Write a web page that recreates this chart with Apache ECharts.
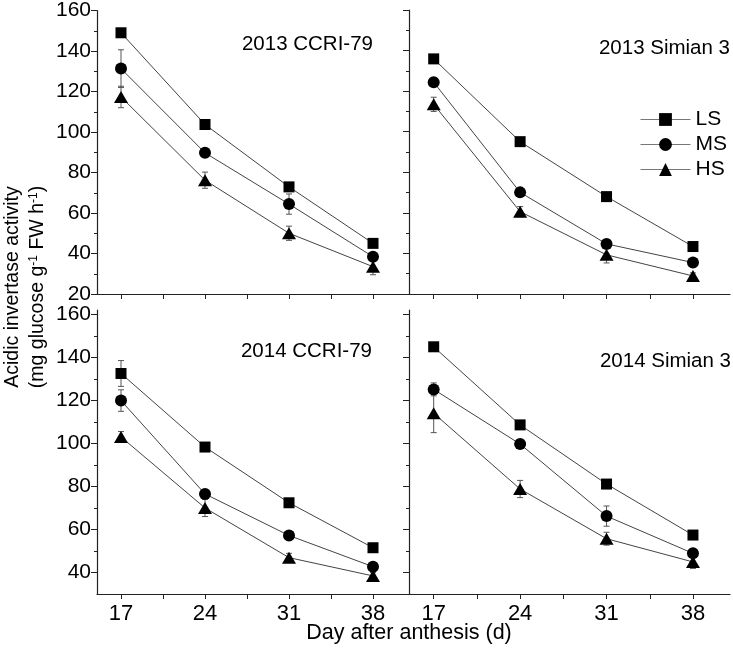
<!DOCTYPE html>
<html>
<head>
<meta charset="utf-8">
<script src="https://cdn.jsdelivr.net/npm/echarts@6/dist/echarts.min.js"></script>
<style>html,body{margin:0;padding:0;background:#fff}#c{width:733px;height:651px}</style>
</head>
<body>
<div id="c"></div>
<script>
// ---- data ----
const days = [17, 24, 31, 38];
const seriesNames = ['LS', 'MS', 'HS'];
const panelTitles = ['2013 CCRI-79', '2013 Simian 3', '2014 CCRI-79', '2014 Simian 3'];
const xTickValues = [17, 20.5, 24, 27.5, 31, 34.5, 38];
const xLabelValues = [17, 24, 31, 38];
const yTopLabels = [20, 40, 60, 80, 100, 120, 140, 160];
const yTopMinor = [30, 50, 70, 90, 110, 130, 150];
const yBotLabels = [40, 60, 80, 100, 120, 140, 160];
const yBotMinor = [50, 70, 90, 110, 130, 150];

// 2013 CCRI-79
const p1LS = [149, 103.7, 72.9, 45];
const p1MS = [131.3, 89.7, 64.4, 38.4];
const p1HS = [117.3, 76.2, 50, 33.5];
const p1LSerr = [1, 1, 1, 1];
const p1MSerr = [9.3, 1.5, 5, 1.5];
const p1HSerr = [5.3, 4, 3.5, 4];
// 2013 Simian 3
const p2LS = [135.9, 95.1, 68, 43.4];
const p2MS = [124.4, 70.1, 44.7, 35.5];
const p2HS = [113.5, 60.6, 39.3, 28.9];
const p2LSerr = [1, 1, 1, 1];
const p2MSerr = [1, 1, 1, 1];
const p2HSerr = [3.5, 2.5, 4, 1.5];
// 2014 CCRI-79
const p3LS = [132.5, 98.3, 72.4, 51.5];
const p3MS = [119.9, 76.5, 57.2, 42.7];
const p3HS = [103, 70, 46.9, 38.4];
const p3LSerr = [6, 1, 1, 1];
const p3MSerr = [5, 1, 1, 1];
const p3HSerr = [2.5, 4, 2, 1.5];
// 2014 Simian 3
const p4LS = [144.9, 108.6, 81.1, 57.4];
const p4MS = [125.1, 99.7, 66.2, 48.9];
const p4HS = [114, 78.8, 55.7, 44.9];
const p4LSerr = [1, 1, 1, 1];
const p4MSerr = [3, 1, 4.7, 1];
const p4HSerr = [9, 4, 3, 3];

const panels = [
  { vals: [p1LS, p1MS, p1HS], errs: [p1LSerr, p1MSerr, p1HSerr] },
  { vals: [p2LS, p2MS, p2HS], errs: [p2LSerr, p2MSerr, p2HSerr] },
  { vals: [p3LS, p3MS, p3HS], errs: [p3LSerr, p3MSerr, p3HSerr] },
  { vals: [p4LS, p4MS, p4HS], errs: [p4LSerr, p4MSerr, p4HSerr] }
];

// ---- styles ----
const FONT = 'Liberation Sans, Arial, sans-serif';
const AXC = '#222';
const symbols = ['rect', 'circle', 'triangle'];
const symbolSizes = [11, 12, [14, 12]];

const grids = [
  { left: 97, top: 10, width: 312, height: 284 },
  { left: 409, top: 10, width: 321, height: 284 },
  { left: 97, top: 310, width: 312, height: 284 },
  { left: 409, top: 310, width: 321, height: 284 }
];

const xAxes = grids.map((g, i) => ({
  type: 'value', gridIndex: i, min: 15, max: 41,
  axisLine: { show: true, onZero: false, lineStyle: { color: AXC, width: 1.2 } },
  axisTick: { show: true, inside: false, length: 5, customValues: xTickValues, lineStyle: { color: AXC, width: 1 } },
  axisLabel: { show: i >= 2, customValues: xLabelValues, margin: 9, fontSize: 22, color: '#000', fontFamily: FONT },
  splitLine: { show: false }
}));

const yAxes = [];
grids.forEach((g, i) => {
  const top = i < 2;
  const min = top ? 20 : 30;
  const max = top ? 160 : 162;
  yAxes.push({
    type: 'value', gridIndex: i, min: min, max: max, position: 'left',
    axisLine: { show: true, onZero: false, lineStyle: { color: AXC, width: 1.2 } },
    axisTick: { show: true, inside: false, length: 6, customValues: top ? yTopLabels : yBotLabels, lineStyle: { color: AXC } },
    axisLabel: { show: i % 2 === 0, customValues: top ? yTopLabels : yBotLabels, margin: 6, fontSize: 21, color: '#000', fontFamily: FONT },
    splitLine: { show: false }
  });
  yAxes.push({
    type: 'value', gridIndex: i, min: min, max: max, position: 'left', offset: 0,
    axisLine: { show: false, onZero: false },
    axisTick: { show: true, inside: false, length: 3, customValues: top ? yTopMinor : yBotMinor, lineStyle: { color: AXC } },
    axisLabel: { show: false },
    splitLine: { show: false }
  });
});

const series = [];
panels.forEach((p, pi) => {
  // error bars
  const errData = [];
  p.vals.forEach((arr, si) => {
    arr.forEach((v, k) => {
      errData.push([days[k], v - p.errs[si][k], v + p.errs[si][k]]);
    });
  });
  series.push({
    type: 'custom', xAxisIndex: pi, yAxisIndex: pi * 2, z: 1, silent: true,
    encode: { x: 0, y: [1, 2] },
    data: errData,
    renderItem: function (params, api) {
      const x = api.value(0);
      const a = api.coord([x, api.value(1)]);
      const b = api.coord([x, api.value(2)]);
      const w = 3;
      const st = { stroke: '#555', lineWidth: 1 };
      return {
        type: 'group',
        children: [
          { type: 'line', shape: { x1: a[0], y1: a[1], x2: b[0], y2: b[1] }, style: st },
          { type: 'line', shape: { x1: a[0] - w, y1: a[1], x2: a[0] + w, y2: a[1] }, style: st },
          { type: 'line', shape: { x1: b[0] - w, y1: b[1], x2: b[0] + w, y2: b[1] }, style: st }
        ]
      };
    }
  });
  p.vals.forEach((arr, si) => {
    series.push({
      type: 'line', name: seriesNames[si], xAxisIndex: pi, yAxisIndex: pi * 2, z: 3,
      data: arr.map((v, k) => [days[k], v]),
      symbol: symbols[si], symbolSize: symbolSizes[si], showAllSymbol: true,
      itemStyle: { color: '#000' },
      lineStyle: { color: '#444', width: 1 },
      emphasis: { disabled: true },
      animation: false
    });
  });
});

const titlePos = [
  { x: 373, y: 44 },
  { x: 730, y: 48 },
  { x: 372, y: 351 },
  { x: 731, y: 361 }
];

const graphics = panelTitles.map((t, i) => ({
  type: 'text', x: titlePos[i].x, y: titlePos[i].y,
  style: { text: t, font: '20.5px ' + FONT, fill: '#000', textAlign: 'right', textVerticalAlign: 'middle' }
}));
graphics.push({
  type: 'text', x: 409, y: 633,
  style: { text: 'Day after anthesis (d)', font: '21.5px ' + FONT, fill: '#000', textAlign: 'center', textVerticalAlign: 'middle' }
});
graphics.push({
  type: 'text', x: 13, y: 287, rotation: Math.PI / 2,
  style: { text: 'Acidic invertase activity', font: '19.5px ' + FONT, fill: '#000', textAlign: 'center', textVerticalAlign: 'middle' }
});
graphics.push({
  type: 'text', x: 38, y: 287, rotation: Math.PI / 2,
  style: {
    text: '(mg glucose g{s|-1} FW h{s|-1})',
    font: '19.5px ' + FONT, fill: '#000', textAlign: 'center', textVerticalAlign: 'middle',
    rich: { s: { fontSize: 12, fontFamily: FONT, verticalAlign: 'top', fill: '#000' } }
  }
});

const chart = echarts.init(document.getElementById('c'), null, { renderer: 'canvas' });
chart.setOption({
  animation: false,
  backgroundColor: '#fff',
  textStyle: { fontFamily: FONT },
  grid: grids,
  xAxis: xAxes,
  yAxis: yAxes,
  legend: {
    data: seriesNames, orient: 'vertical', left: 635, top: 104,
    itemWidth: 50, itemHeight: 16, itemGap: 4,
    lineStyle: { color: '#777', width: 1 },
    textStyle: { fontSize: 21, color: '#000', fontFamily: FONT },
    selectedMode: false
  },
  series: series,
  graphic: graphics
});
</script>
</body>
</html>
